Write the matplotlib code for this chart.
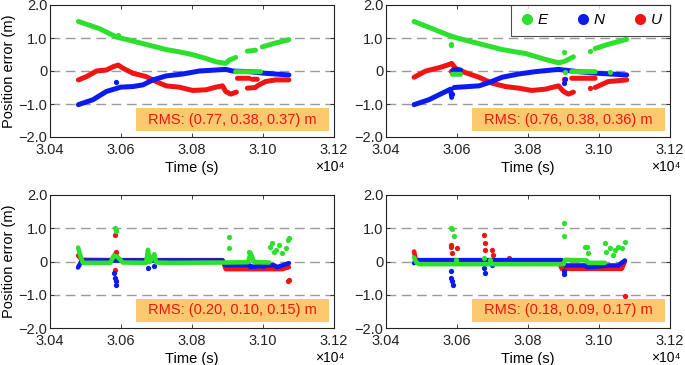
import numpy as np
import matplotlib
matplotlib.use("Agg")
import matplotlib.pyplot as plt
from matplotlib.patches import Rectangle
from matplotlib.lines import Line2D
from matplotlib.ticker import FuncFormatter

plt.rcParams['font.family'] = ['Liberation Sans', 'DejaVu Sans']
plt.rcParams['font.size'] = 10.5

nan = np.nan

# ---- top-left panel (time in s, error in m; nan breaks a segment) ----
tl_e_t = [30480, 30540, 30587, 30599, 30662, 30727, 30764, 30800, 30839, 30867, 30895, 30905, 30923,
          nan, 30956, 30979, nan, 30998, 31036, 31073, nan, 30923, 30961, nan, 30970, 30993]
tl_e_v = [1.50, 1.28, 1.03, 1.00, 0.83, 0.65, 0.58, 0.50, 0.38, 0.28, 0.23, 0.33, 0.41,
          nan, 0.60, 0.63, nan, 0.73, 0.85, 0.95, nan, -0.02, -0.02, nan, -0.02, -0.02]
tl_n_t = [30480, 30521, 30559, 30599, 30634, 30662, 30690, 30727, 30774, 30821, 30867, 30895, 30914,
          30961, 31007, 31073]
tl_n_v = [-1.02, -0.87, -0.62, -0.49, -0.47, -0.42, -0.27, -0.15, -0.09, 0.00, 0.03, 0.05, 0.00,
          -0.02, -0.07, -0.12]
tl_u_t = [30480, 30503, 30531, 30559, 30578, 30592, 30606, 30634, 30671, 30699, 30727, 30764, 30802,
          30839, 30867, 30886, 30895, 30909, 30925, nan, 30928, 30961, nan, 30970, 30984,
          nan, 30956, 30979, nan, 30984, 31007, 31036, 31073]
tl_u_v = [-0.27, -0.17, 0.00, 0.03, 0.13, 0.18, 0.08, -0.07, -0.17, -0.32, -0.45, -0.49, -0.59,
          -0.57, -0.49, -0.45, -0.62, -0.70, -0.64, nan, -0.22, -0.22, nan, -0.25, -0.25,
          nan, -0.52, -0.50, nan, -0.45, -0.32, -0.27, -0.27]
tl_e_ot, tl_e_ov = [30592], [1.10]
tl_n_ot, tl_n_ov = [30587], [-0.32]
tl_u_ot, tl_u_ov = [], []

# ---- top-right panel ----
tr_e_t = [30479, 30531, 30578, 30600, 30662, 30727, 30793, 30849, 30886, 30900, 30914, 30928,
          nan, 30989, 31026, 31078, nan, 30587, 30610, nan, 30923, 30989]
tr_e_v = [1.50, 1.28, 1.08, 1.00, 0.83, 0.65, 0.53, 0.35, 0.25, 0.28, 0.35, 0.43,
          nan, 0.68, 0.81, 0.96, nan, -0.10, -0.10, nan, -0.02, -0.02]
tr_n_t = [30479, 30521, 30559, 30582, 30585, nan, 30592, 30662, 30690, 30727, 30774, 30821, 30886,
          30900, 30942, 30998, 31078, nan, 30589, 30610]
tr_n_v = [-1.02, -0.87, -0.67, -0.55, -0.80, nan, -0.50, -0.45, -0.35, -0.19, -0.09, -0.02, 0.05,
          0.03, -0.02, -0.07, -0.12, nan, 0.03, 0.03]
tr_u_t = [30479, 30512, 30550, 30573, 30585, 30596, 30624, 30662, 30699, 30736, 30774, 30811, 30849,
          30886, 30900, 30914, 30928, nan, 30923, 30989, nan, 30989, 31026, 31078]
tr_u_v = [-0.19, 0.00, 0.10, 0.18, 0.23, 0.08, -0.05, -0.19, -0.37, -0.47, -0.52, -0.59, -0.55,
          -0.45, -0.62, -0.70, -0.64, nan, -0.22, -0.22, nan, -0.50, -0.32, -0.27]
tr_e_ot, tr_e_ov = [30582, 30584, 30900, 30903, 30975, 31031], [0.80, 0.83, 0.58, -0.02, 0.61, -0.02]
tr_n_ot, tr_n_ov = [30585, 30902, 30903], [-0.70, -0.37, -0.25]
tr_u_ot, tr_u_ov = [30582, 30585, 30902, 30975], [0.00, 0.00, -0.25, -0.50]

# ---- bottom-left panel ----
bl_e_t = [30479, 30486, 30493, 30570, 30580, 30592, 30605, 30671, 30676, 30681, 30694, 30699,
          30740, 30900, 30958, 30965, 30975, 31017]
bl_e_v = [0.42, 0.15, -0.04, -0.04, 0.18, 0.12, -0.03, -0.04, 0.35, -0.02, 0.22, -0.03,
          -0.04, -0.03, -0.02, 0.25, -0.02, -0.03]
bl_n_t = [30479, 30490, 30578, 30886, 30895, 30960, 30968, 31030, 31040, 31054, 31073]
bl_n_v = [-0.18, 0.03, 0.03, 0.03, -0.11, -0.11, -0.16, -0.11, -0.17, -0.12, -0.05]
bl_u_t = [30479, 30490, 30580, 30585, 30590, 30886, 30895, 31054, 31073]
bl_u_v = [0.18, 0.05, 0.04, 0.25, 0.04, 0.04, -0.23, -0.23, -0.17]
bl_e_ot = [30582, 30585, 30587, 30905, 30905, 30961, 31020, 31026, 31030, 31036, 31045, 31054,
           31064, 31070, 31073]
bl_e_ov = [1.02, 0.95, 0.92, 0.75, 0.40, 0.30, 0.45, 0.55, 0.30, 0.35, 0.50, 0.25,
           0.40, 0.65, 0.72]
bl_n_ot = [30580, 30582, 30585, 30587, 30676, 30694, 30962, 31000]
bl_n_ov = [-0.35, -0.50, -0.60, -0.72, -0.20, -0.15, -0.15, -0.15]
bl_u_ot = [30582, 30587, 30582, 31070, 31073]
bl_u_ov = [0.80, 0.30, -0.25, -0.60, -0.55]

# ---- bottom-right panel ----
br_e_t = [30479, 30486, 30493, 30900, 30905, 30965, 30970, 31017]
br_e_v = [0.12, -0.03, -0.08, -0.08, 0.05, 0.03, -0.04, -0.04]
br_n_t = [30479, 30484, 30895, 30905, 30960, 30968, 31030, 31054, 31073]
br_n_v = [-0.05, 0.04, 0.04, -0.12, -0.12, -0.17, -0.12, -0.12, 0.03]
br_u_t = [30479, 30484, 30495, 30886, 30895, 31064, 31073]
br_u_v = [0.30, 0.05, 0.02, 0.02, -0.22, -0.22, 0.00]
br_e_ot = [30582, 30586, 30591, 30596, 30676, 30694, 30900, 30902, 30961, 30965, 30970, 31017,
           31020, 31030, 31040, 31045, 31054, 31064, 31073]
br_e_ov = [1.02, 0.98, 0.78, 0.05, 0.10, 0.05, 1.15, 0.77, 0.45, 0.45, 0.25, 0.55,
           0.30, 0.40, 0.20, 0.35, 0.45, 0.40, 0.60]
br_n_ot = [30582, 30584, 30587, 30590, 30676, 30678, 30699, 30900, 30902]
br_n_ov = [-0.30, -0.50, -0.60, -0.70, -0.20, -0.35, -0.10, -0.30, -0.38]
br_u_ot = [30582, 30584, 30587, 30601, 30676, 30678, 30680, 30699, 30700, 30746, 31073]
br_u_ov = [0.50, 0.45, 0.25, 0.42, 0.80, 0.55, 0.35, 0.35, 0.20, 0.10, -1.05]

rms_labels = ['RMS: (0.77, 0.38, 0.37) m', 'RMS: (0.76, 0.38, 0.36) m',
              'RMS: (0.20, 0.10, 0.15) m', 'RMS: (0.18, 0.09, 0.17) m']

c_e, c_n, c_u = '#2de02d', '#0a1af0', '#f01414'

panels = [
    (tl_e_t, tl_e_v, tl_n_t, tl_n_v, tl_u_t, tl_u_v, tl_e_ot, tl_e_ov, tl_n_ot, tl_n_ov, tl_u_ot, tl_u_ov),
    (tr_e_t, tr_e_v, tr_n_t, tr_n_v, tr_u_t, tr_u_v, tr_e_ot, tr_e_ov, tr_n_ot, tr_n_ov, tr_u_ot, tr_u_ov),
    (bl_e_t, bl_e_v, bl_n_t, bl_n_v, bl_u_t, bl_u_v, bl_e_ot, bl_e_ov, bl_n_ot, bl_n_ov, bl_u_ot, bl_u_ov),
    (br_e_t, br_e_v, br_n_t, br_n_v, br_u_t, br_u_v, br_e_ot, br_e_ov, br_n_ot, br_n_ov, br_u_ot, br_u_ov),
]

W, H = 685, 365
fig = plt.figure(figsize=(W / 100, H / 100), dpi=100)
# axes boxes in pixels: left, top, right, bottom
boxes = [(50, 5, 334, 137), (386, 5, 670, 137), (50, 195, 334, 328), (386, 195, 670, 328)]

for i, (box, p) in enumerate(zip(boxes, panels)):
    l, t, r, b = box
    ax = fig.add_axes([l / W, 1 - b / H, (r - l) / W, (b - t) / H])
    et, ev, nt, nv, ut, uv, eot, eov, not_, nov, uot, uov = p
    lw = 3.6 if i < 2 else 3.3
    for tt, vv, ot, ov, c in [(ut, uv, uot, uov, c_u), (nt, nv, not_, nov, c_n), (et, ev, eot, eov, c_e)]:
        ax.plot(tt, vv, color=c, lw=lw, solid_capstyle='round', solid_joinstyle='round', zorder=3)
        ax.plot(ot, ov, 'o', color=c, ms=3.8, mec='none', zorder=3)

    ax.set_xlim(30400, 31200)
    ax.set_ylim(-2, 2)
    ax.set_xticks([30400, 30600, 30800, 31000, 31200])
    ax.xaxis.set_major_formatter(FuncFormatter(lambda x, _: f'{x / 1e4:.2f}'))
    ax.set_yticks([-2, -1, 0, 1, 2])
    ax.set_yticklabels(['\u22122.0', '\u22121.0', '0', '1.0', '2.0'])
    ax.tick_params(direction='in', length=3, width=0.6, top=True, right=True,
                   labelsize=10.5, colors='#222222')
    ax.tick_params(axis='x', pad=4.5)
    ax.tick_params(axis='y', pad=2)
    for s in ax.spines.values():
        s.set_linewidth(0.8)
        s.set_color('#222222')
    for g in [-1, 0, 1]:
        ax.axhline(g, color='#9a9a9a', lw=1.0, dashes=(7, 4), zorder=1)

    ax.set_xlabel('Time (s)', fontsize=10.5, labelpad=3)
    ax.text((r - l + 11) / (r - l), -30 / (b - t), '\u00d710\u2074', transform=ax.transAxes,
            ha='right', va='center', fontsize=10)
    if i % 2 == 0:
        ax.set_ylabel('Position error (m)', fontsize=10.5, labelpad=2)

    ax.add_patch(Rectangle((30642, -1.82), 545, 0.70, facecolor='#fdc86e', edgecolor='none',
                           zorder=4))
    ax.text(30914, -1.47, rms_labels[i], color='#f01414', ha='center', va='center',
            fontsize=10.5, zorder=5)

    if i == 1:
        handles = [Line2D([], [], ls='none', marker='o', ms=8, color=c, mec='none')
                   for c in (c_e, c_n, c_u)]
        leg = ax.legend(handles, ['E', 'N', 'U'], ncol=3, loc='upper right', borderaxespad=0,
                        frameon=True, fancybox=False, handletextpad=0.2, columnspacing=1.8,
                        handlelength=1.0, borderpad=0.55, prop={'style': 'italic', 'size': 11})
        leg.get_frame().set_edgecolor('#222222')
        leg.get_frame().set_linewidth(0.8)
        leg.set_zorder(6)

fig.savefig('out.png', dpi=100)
